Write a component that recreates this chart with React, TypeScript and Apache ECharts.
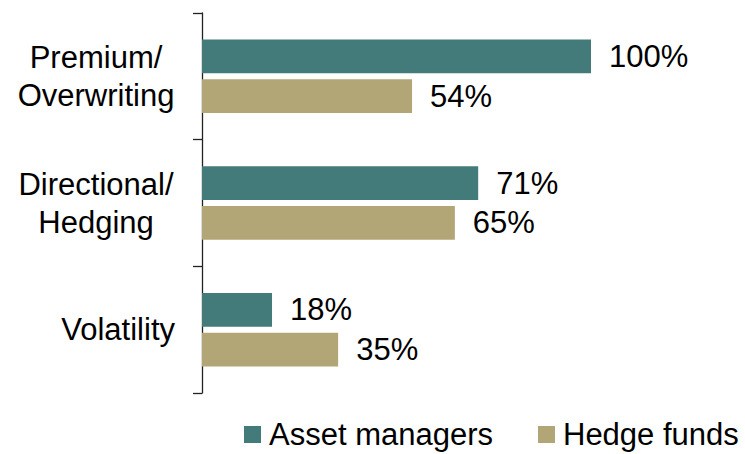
import React, { useEffect, useRef } from "react";
import * as echarts from "echarts";

const categories = ["Premium/\nOverwriting", "Directional/\nHedging", "Volatility"];
const assetManagers = [100, 71, 18];
const hedgeFunds = [54, 65, 35];
const seriesNames = ["Asset managers", "Hedge funds"];

export default function App() {
  const ref = useRef<HTMLDivElement>(null);
  useEffect(() => {
    const chart = echarts.init(ref.current!, null, { renderer: "svg" });
    const font = "'Liberation Sans', Arial, sans-serif";
    const fs = 31;
    chart.setOption({
      animation: false,
      textStyle: { fontFamily: font },
      grid: { left: 202, width: 389, top: 13, bottom: 61 },
      legend: {
        data: seriesNames,
        left: 244,
        top: 419,
        padding: 0,
        itemWidth: 17,
        itemHeight: 17,
        itemGap: 45,
        icon: "rect",
        textStyle: { fontSize: fs, color: "#000", fontFamily: font, padding: [0, 0, 0, 3] },
      },
      xAxis: { type: "value", min: 0, max: 100, show: false },
      yAxis: {
        type: "category",
        data: categories,
        inverse: true,
        axisLine: { show: true, lineStyle: { color: "#222", width: 1.3 } },
        axisTick: { show: true, length: 9, lineStyle: { color: "#222", width: 1.3 } },
        axisLabel: {
          margin: 27,
          fontSize: fs,
          color: "#000",
          fontFamily: font,
          formatter: (v: string) =>
            v.includes("\n")
              ? v
                  .split("\n")
                  .map((s) => `{c|${s}}`)
                  .join("\n")
              : `{r|${v}}`,
          rich: {
            c: { width: 158, align: "center", fontSize: fs, lineHeight: 38, color: "#000", fontFamily: font },
            r: { fontSize: fs, lineHeight: 38, color: "#000", fontFamily: font },
          },
        },
      },
      series: [
        {
          name: seriesNames[0],
          type: "bar",
          data: assetManagers,
          barGap: "18%",
          barCategoryGap: "42%",
          itemStyle: { color: "#437B7A" },
          label: { show: true, position: "right", distance: 18, fontSize: fs, color: "#000", fontFamily: font, formatter: "{c}%" },
        },
        {
          name: seriesNames[1],
          type: "bar",
          data: hedgeFunds,
          itemStyle: { color: "#B2A677" },
          label: { show: true, position: "right", distance: 18, fontSize: fs, color: "#000", fontFamily: font, formatter: "{c}%" },
        },
      ],
    });
    return () => chart.dispose();
  }, []);
  return <div ref={ref} style={{ width: 745, height: 454, position: "absolute", left: 0, top: 0 }} />;
}
